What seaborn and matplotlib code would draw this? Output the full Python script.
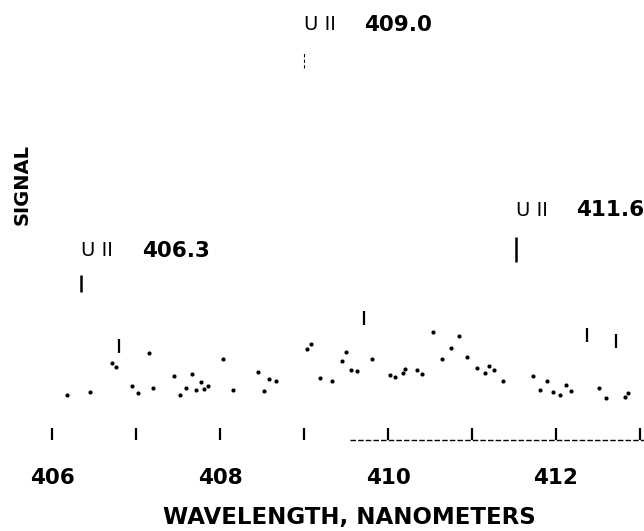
import matplotlib
matplotlib.use("Agg")
import matplotlib.pyplot as plt
import seaborn as sns

# scan points: wavelength (nm) and signal (arbitrary units)
wavelength = [406.18, 406.45, 406.72, 406.76, 406.95, 407.02, 407.15, 407.20,
              407.45, 407.52, 407.59, 407.67, 407.71, 407.77, 407.81, 407.86,
              408.03, 408.15, 408.45, 408.52, 408.58, 408.67, 409.04, 409.08,
              409.19, 409.33, 409.45, 409.50, 409.56, 409.63, 409.81, 410.02,
              410.08, 410.18, 410.20, 410.35, 410.41, 410.54, 410.64, 410.75,
              410.85, 410.94, 411.06, 411.16, 411.20, 411.26, 411.37, 411.73,
              411.81, 411.89, 411.96, 412.05, 412.12, 412.18, 412.51, 412.60,
              412.82, 412.86]
signal = [45, 48, 77, 73, 54, 47, 87, 52,
          64, 45, 52, 66, 50, 58, 51, 54,
          81, 50, 68, 49, 61, 59, 91, 96,
          62, 59, 79, 88, 70, 69, 81, 65,
          63, 67, 71, 70, 66, 108, 81, 92,
          104, 83, 72, 67, 74, 70, 59, 64,
          50, 59, 48, 45, 55, 49, 52, 42,
          43, 47]

# short vertical spikes in the trace
spike_nm = [406.80, 409.71, 412.37, 412.72]
spike_signal = [94, 122, 105, 99]

# identified U II lines
line_labels = ["406.3", "409.0", "411.6"]
line_nm = [406.35, 409.0, 411.52]
label_height = [189, 415, 230]
marker_low = [148, 372, 178]
marker_high = [165, 388, 203]

tick_major = [406, 408, 410, 412]
tick_minor = [407, 409, 411, 413]

sns.set_style("white")
plt.rcParams["font.family"] = ["DejaVu Sans"]
plt.rcParams["text.color"] = "black"
plt.rcParams["axes.labelcolor"] = "black"
plt.rcParams["xtick.color"] = "black"

fig = plt.figure(figsize=(6.44, 5.31), dpi=100)
ax = fig.add_axes([0, 91 / 531, 1, 440 / 531])

sns.scatterplot(x=wavelength, y=signal, s=9, color="black", linewidth=0,
                ax=ax, legend=False)
sns.scatterplot(x=spike_nm, y=spike_signal, marker="|", s=90, color="black",
                linewidth=1.6, ax=ax, legend=False)

for i, lab in enumerate(line_labels):
    faint = lab == "409.0"
    ax.vlines(line_nm[i], marker_low[i], marker_high[i], color="black",
              lw=0.8 if faint else 1.8, ls=(0, (3, 2)) if faint else "-")
    ax.text(line_nm[i], label_height[i], "U II", fontsize=14, ha="left",
            va="center", color="black")
    ax.text(line_nm[i] + 0.72, label_height[i], lab, fontsize=15.5,
            fontweight="bold", ha="left", va="center", color="black")

# baseline drawn only over the right part of the scan
ax.plot([409.55, 413.05], [0, 0], color="black", lw=1.0, ls=(0, (4, 1.5)),
        clip_on=False)

ax.set_xlim(405.381, 413.048)
ax.set_ylim(0, 440)
ax.set_xticks(tick_major)
ax.set_xticklabels([str(t) for t in tick_major], fontweight="bold",
                   fontsize=15.5, color="black")
ax.set_xticks(tick_minor, minor=True)
ax.tick_params(axis="x", which="both", direction="in", length=9, width=1.6,
               bottom=True, pad=20, colors="black")
ax.set_yticks([])
for sp in ax.spines.values():
    sp.set_visible(False)

ax.set_xlabel("WAVELENGTH, NANOMETERS", fontsize=16.5, fontweight="bold",
              color="black")
ax.xaxis.set_label_coords(349 / 644, -0.150)
ax.set_ylabel("SIGNAL", fontsize=14, fontweight="bold", color="black")
ax.yaxis.set_label_coords(22 / 644, 0.58)
ax.yaxis.label.set_va("center")

fig.savefig("out.png", dpi=100)
